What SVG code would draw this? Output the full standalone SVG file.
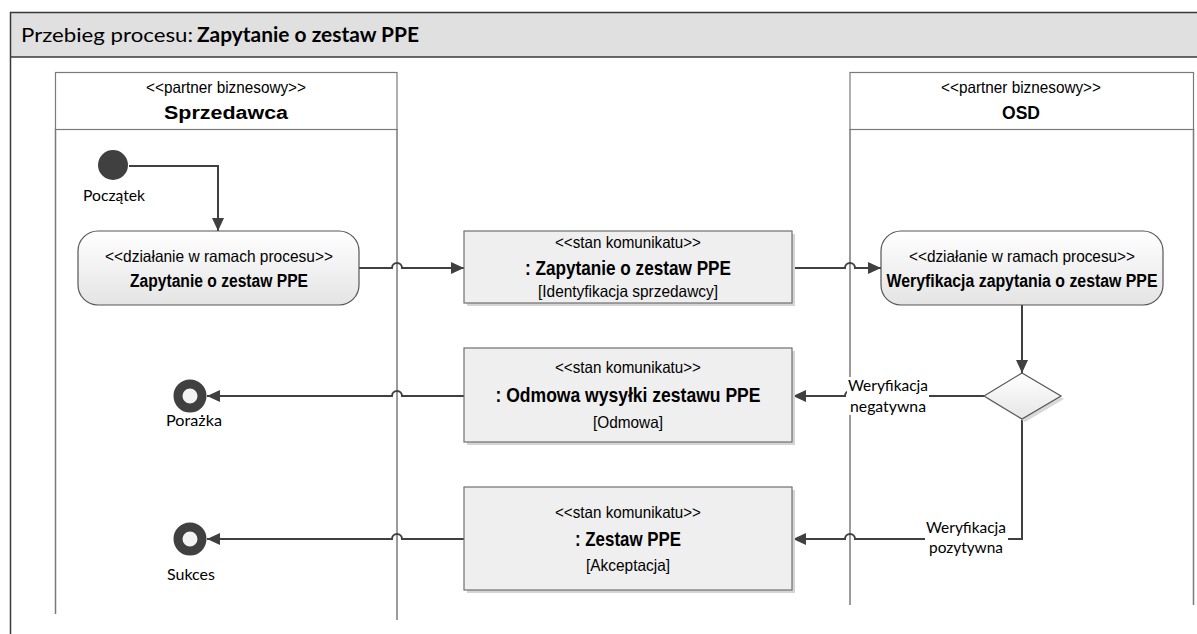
<svg xmlns="http://www.w3.org/2000/svg" width="1197" height="634" viewBox="0 0 1197 634">
<defs>
  <linearGradient id="gAct" x1="0" y1="0" x2="0" y2="1">
    <stop offset="0" stop-color="#ffffff"/>
    <stop offset="1" stop-color="#e4e4e4"/>
  </linearGradient>
  <linearGradient id="gDia" x1="0" y1="0" x2="0" y2="1">
    <stop offset="0" stop-color="#ffffff"/>
    <stop offset="1" stop-color="#e6e6e6"/>
  </linearGradient>
  <marker id="arr" markerUnits="userSpaceOnUse" markerWidth="14" markerHeight="12" refX="13" refY="6" orient="auto">
    <path d="M0,0 L13,6 L0,12 z" fill="#404040"/>
  </marker>
  <style>
    .lane{fill:#fff;stroke:#7a7a7a;stroke-width:1.2}
    .laneline{stroke:#7a7a7a;stroke-width:1.5;fill:none}
    .act{fill:url(#gAct);stroke:#555;stroke-width:1.2}
    .msg{fill:#efefef;stroke:#6f6f6f;stroke-width:1.2}
    .shadow{fill:#d4d4d4}
    .conn{fill:none;stroke:#404040;stroke-width:2}
    .st{font-family:"Liberation Sans Narrow","Liberation Sans",Arial,sans-serif;font-size:16.5px;fill:#000;text-anchor:middle}
    .nm{font-family:"Liberation Sans Narrow","Liberation Sans",Arial,sans-serif;font-size:17.5px;font-weight:bold;fill:#000;text-anchor:middle}
    .nmb{font-family:"Liberation Sans Narrow","Liberation Sans",Arial,sans-serif;font-size:20.5px;font-weight:bold;fill:#000;text-anchor:middle}
    .lbl{font-family:Lato,"Open Sans","Noto Sans",sans-serif;font-size:16px;fill:#000;text-anchor:middle}
    .ttl{font-family:Lato,"Open Sans","Noto Sans",sans-serif;font-size:20px;fill:#000}
  </style>
</defs>

<g id="frame">
  <rect x="10" y="12" width="1200" height="45" fill="#e0e0e0"/>
  <line x1="10" y1="12.5" x2="1197" y2="12.5" stroke="#3a3a3a" stroke-width="1.5"/>
  <line x1="10" y1="57" x2="1197" y2="57" stroke="#3a3a3a" stroke-width="1.5"/>
  <line x1="10.5" y1="12" x2="10.5" y2="634" stroke="#3a3a3a" stroke-width="1.5"/>
  <text class="ttl" x="21" y="42" textLength="172" lengthAdjust="spacingAndGlyphs">Przebieg procesu:</text>
  <text class="ttl" x="197" y="42" font-weight="bold" textLength="222" lengthAdjust="spacingAndGlyphs">Zapytanie o zestaw PPE</text>
</g>

<g id="lane-sprzedawca">
  <line class="laneline" x1="55.5" y1="129" x2="55.5" y2="614"/>
  <line class="laneline" x1="397" y1="129" x2="397" y2="620"/>
  <rect class="lane" x="55.5" y="72.5" width="341.5" height="57"/>
  <text class="st" x="226" y="93" textLength="160" lengthAdjust="spacingAndGlyphs">&lt;&lt;partner biznesowy&gt;&gt;</text>
  <text class="nm" x="226" y="119" font-size="19" textLength="124" lengthAdjust="spacingAndGlyphs">Sprzedawca</text>
</g>

<g id="lane-osd">
  <line class="laneline" x1="850" y1="129" x2="850" y2="605"/>
  <line class="laneline" x1="1193.5" y1="129" x2="1193.5" y2="605"/>
  <rect class="lane" x="850" y="72.5" width="343.5" height="57"/>
  <text class="st" x="1021" y="93" textLength="160" lengthAdjust="spacingAndGlyphs">&lt;&lt;partner biznesowy&gt;&gt;</text>
  <text class="nm" x="1021" y="119" font-size="19" textLength="38" lengthAdjust="spacingAndGlyphs">OSD</text>
</g>

<g id="connectors">
  <path class="conn" d="M129,166 H218 V231" marker-end="url(#arr)"/>
  <path class="conn" d="M359,268 H392 A5,5 0 0 1 402,268 H464" marker-end="url(#arr)"/>
  <path class="conn" d="M792,268 H845 A5,5 0 0 1 855,268 H881" marker-end="url(#arr)"/>
  <path class="conn" d="M1022,305 V373" marker-end="url(#arr)"/>
  <path class="conn" d="M984,396 H855 A5,5 0 0 0 845,396 H793" marker-end="url(#arr)"/>
  <path class="conn" d="M1022,419 V539 H855 A5,5 0 0 0 845,539 H793" marker-end="url(#arr)"/>
  <path class="conn" d="M464,396 H402 A5,5 0 0 0 392,396 H207" marker-end="url(#arr)"/>
  <path class="conn" d="M464,539 H402 A5,5 0 0 0 392,539 H207" marker-end="url(#arr)"/>
  <rect x="847" y="377" width="82" height="38" fill="#fff"/>
  <text class="lbl" x="888" y="391" textLength="80" lengthAdjust="spacingAndGlyphs">Weryfikacja</text>
  <text class="lbl" x="888" y="412" textLength="76" lengthAdjust="spacingAndGlyphs">negatywna</text>
  <rect x="925" y="519" width="83" height="38" fill="#fff"/>
  <text class="lbl" x="966" y="533" textLength="80" lengthAdjust="spacingAndGlyphs">Weryfikacja</text>
  <text class="lbl" x="966" y="553" textLength="74" lengthAdjust="spacingAndGlyphs">pozytywna</text>
</g>

<g id="start">
  <circle cx="113" cy="165" r="15" fill="#404040"/>
  <text class="lbl" x="114" y="201" textLength="62" lengthAdjust="spacingAndGlyphs">Początek</text>
</g>

<g id="action-zapytanie">
  <rect class="act" x="78" y="231" width="281" height="74" rx="20"/>
  <text class="st" x="219" y="262" textLength="228" lengthAdjust="spacingAndGlyphs">&lt;&lt;działanie w ramach procesu&gt;&gt;</text>
  <text class="nm" x="219" y="287" textLength="178" lengthAdjust="spacingAndGlyphs">Zapytanie o zestaw PPE</text>
</g>

<g id="msg-zapytanie">
  <rect class="shadow" x="467" y="234" width="328" height="72"/>
  <rect class="msg" x="464" y="231" width="328" height="72"/>
  <text class="st" x="628" y="248" textLength="146" lengthAdjust="spacingAndGlyphs">&lt;&lt;stan komunikatu&gt;&gt;</text>
  <text class="nmb" x="628" y="275" textLength="206" lengthAdjust="spacingAndGlyphs">: Zapytanie o zestaw PPE</text>
  <text class="st" x="628" y="297" textLength="180" lengthAdjust="spacingAndGlyphs">[Identyfikacja sprzedawcy]</text>
</g>

<g id="action-weryfikacja">
  <rect class="act" x="881" y="231" width="282" height="74" rx="20"/>
  <text class="st" x="1022" y="262" textLength="226" lengthAdjust="spacingAndGlyphs">&lt;&lt;działanie w ramach procesu&gt;&gt;</text>
  <text class="nm" x="1022" y="287" textLength="271" lengthAdjust="spacingAndGlyphs">Weryfikacja zapytania o zestaw PPE</text>
</g>

<g id="decision">
  <polygon points="1025,376 1064,399 1025,422 987,399" fill="#d8d8d8"/>
  <polygon points="1022,373 1061,396 1022,419 984,396" fill="url(#gDia)" stroke="#555" stroke-width="1.2"/>
</g>

<g id="msg-odmowa">
  <rect class="shadow" x="467" y="351" width="328" height="94"/>
  <rect class="msg" x="464" y="348" width="328" height="94"/>
  <text class="st" x="628" y="373" textLength="146" lengthAdjust="spacingAndGlyphs">&lt;&lt;stan komunikatu&gt;&gt;</text>
  <text class="nmb" x="628" y="402" textLength="265" lengthAdjust="spacingAndGlyphs">: Odmowa wysyłki zestawu PPE</text>
  <text class="st" x="628" y="428" textLength="70" lengthAdjust="spacingAndGlyphs">[Odmowa]</text>
</g>

<g id="msg-zestaw">
  <rect class="shadow" x="467" y="490" width="328" height="103"/>
  <rect class="msg" x="464" y="487" width="328" height="103"/>
  <text class="st" x="628" y="518" textLength="146" lengthAdjust="spacingAndGlyphs">&lt;&lt;stan komunikatu&gt;&gt;</text>
  <text class="nmb" x="628" y="546" textLength="106" lengthAdjust="spacingAndGlyphs">: Zestaw PPE</text>
  <text class="st" x="628" y="571" textLength="84" lengthAdjust="spacingAndGlyphs">[Akceptacja]</text>
</g>

<g id="end-porazka">
  <circle cx="190" cy="396" r="12" fill="#f2f2f2" stroke="#404040" stroke-width="9"/>
  <text class="lbl" x="194" y="426" textLength="56" lengthAdjust="spacingAndGlyphs">Porażka</text>
</g>

<g id="end-sukces">
  <circle cx="190" cy="539" r="12" fill="#f2f2f2" stroke="#404040" stroke-width="9"/>
  <text class="lbl" x="191" y="580" textLength="48" lengthAdjust="spacingAndGlyphs">Sukces</text>
</g>
</svg>
